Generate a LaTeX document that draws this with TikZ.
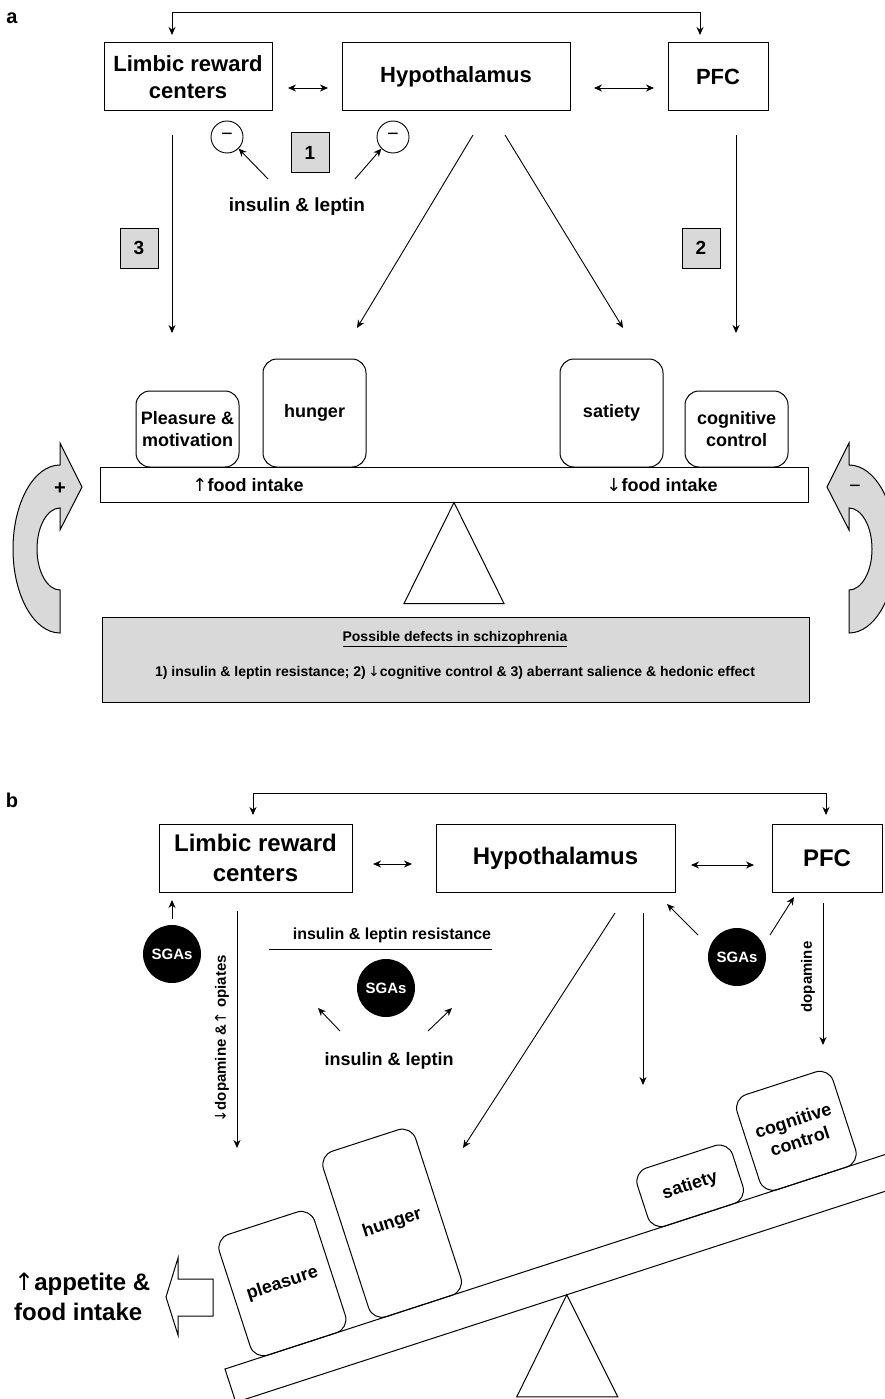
\documentclass[tikz,border=0pt]{standalone}
\usepackage{fontspec}
\setmainfont{Liberation Sans}
\newfontfamily\arrf{DejaVu Sans}
\usetikzlibrary{arrows.meta,calc}
\newcommand{\fsz}[2]{\fontsize{#1}{#2}\selectfont}
\newcommand{\upA}{{\arrf\mdseries ↑}}
\newcommand{\dnA}{{\arrf\mdseries ↓}}
\newcommand{\myBendArrow}[2]{% #1 base x, #2 direction (+1 points right)
  \draw[line width=1pt, fill=gray!30]
    (#1,633) .. controls ({#1-#2*26},633) and ({#1-#2*47},595.4) .. ({#1-#2*47},549)
    .. controls ({#1-#2*47},502.6) and ({#1-#2*26},465) .. (#1,465)
    -- (#1,443) -- ({#1+#2*22},487) -- (#1,530) -- (#1,508)
    .. controls ({#1-#2*12.7},508) and ({#1-#2*23},526.4) .. ({#1-#2*23},549)
    .. controls ({#1-#2*23},571.6) and ({#1-#2*12.7},590) .. (#1,590) -- cycle;}
\tikzset{
  box/.style={draw, line width=1pt, align=center, inner sep=0pt, font=\bfseries\fsz{22}{27}},
  boxb/.style={box, font=\bfseries\fsz{24}{30}},
  blk/.style={draw, line width=1pt, rounded corners=14pt, align=center, inner sep=0pt,
    minimum width=103pt, font=\bfseries\fsz{18}{22}},
  arr/.style={-{Stealth[length=8pt,width=7pt]}, line width=0.9pt},
  darr/.style={{Stealth[length=8pt,width=7pt]}-{Stealth[length=8pt,width=7pt]}, line width=0.9pt},
  numbox/.style={draw, fill=gray!30, line width=1pt, minimum width=38pt, minimum height=40pt,
    inner sep=0pt, font=\bfseries\fsz{19}{23}},
  minuscirc/.style={draw, circle, line width=0.9pt, minimum size=32pt, inner sep=0pt},
  sga/.style={circle, fill=black, minimum size=58pt, inner sep=0pt, text=white,
    font=\bfseries\fsz{15}{18}},
  lbl/.style={inner sep=0pt, font=\bfseries\fsz{18}{22}},
}
\begin{document}
\begin{tikzpicture}[x=1pt, y=-1pt]
\useasboundingbox (0,0) rectangle (885,1399);
\clip (0,0) rectangle (885,1399);
%================ PANEL A =================
\node[lbl, font=\bfseries\fsz{20}{24}] (labA) at (12,18) {a};
\node[box, minimum width=168pt, minimum height=68pt] (limA) at (188,77) {Limbic reward\\centers};
\node[box, minimum width=228pt, minimum height=68pt] (hypA) at (456,77) {Hypothalamus};
\node[box, minimum width=100pt, minimum height=68pt] (pfcA) at (718,77) {PFC};
\coordinate (fbAl) at (172,35);
\coordinate (fbAr) at (700,35);
\draw[{Stealth[length=8pt,width=7pt]}-{Stealth[length=8pt,width=7pt]}, line width=0.9pt]
  (fbAl) -- ++(0,-23) -| (fbAr);
\coordinate (dA1) at (288,88); \coordinate (dA2) at (328,88);
\draw[darr] (dA1) -- (dA2);
\coordinate (dA3) at (594,88); \coordinate (dA4) at (654,88);
\draw[darr] (dA3) -- (dA4);
% minus circles
\node[minuscirc] (m1) at (227,137) {\fsz{20}{22}−};
\node[minuscirc] (m2) at (393,137) {\fsz{20}{22}−};
\node[numbox] (n1) at (310,153) {1};
\node[lbl, font=\bfseries\fsz{19}{23}] (insA) at (297,207) {insulin \& leptin};
\coordinate (iA1) at (268,179); \coordinate (iA2) at (355,179);
\draw[arr] (iA1) -- (m1.south east);
\draw[arr] (iA2) -- (m2.south west);
\node[numbox] (n3) at (139,248) {3};
\node[numbox] (n2) at (701,248) {2};
% blocks
\node[blk, minimum height=76pt] (plA) at (187.5,429) {Pleasure \&\\motivation};
\node[blk, minimum height=108pt] (huA) at (314.5,413) {hunger};
\node[blk, minimum height=108pt] (saA) at (611.5,413) {satiety};
\node[blk, minimum height=76pt] (coA) at (736.5,429) {cognitive\\control};
% vertical/diagonal arrows
\coordinate (lA0) at (172,135); \coordinate (lA1) at (172,333);
\draw[arr] (lA0) -- (lA1);
\coordinate (hA0) at (473,135); \coordinate (hA1) at (357,328);
\draw[arr] (hA0) -- (hA1);
\coordinate (hA2) at (505,135); \coordinate (hA3) at (623,328);
\draw[arr] (hA2) -- (hA3);
\coordinate (pA0) at (736,135); \coordinate (pA1) at (736,333);
\draw[arr] (pA0) -- (pA1);
% beam
\node[draw, line width=1pt, minimum width=708pt, minimum height=35pt, inner sep=0pt] (beamA) at (454,484.5) {};
\node[lbl, font=\bfseries\fsz{18}{22}] (fiA1) at (248,485) {\upA food intake};
\node[lbl, font=\bfseries\fsz{18}{22}] (fiA2) at (662,485) {\dnA food intake};
\draw[line width=1pt] (beamA.south) -- ++(-50,101) -- ++(100,0) -- cycle;
% defects box
\node[draw, line width=1pt, fill=gray!30, minimum width=707pt, minimum height=85pt, inner sep=0pt,
  align=center] (defA) at (455.5,659.5) {};
\node[lbl, font=\bfseries\fsz{14}{17}] (defT) at (455,639) {\underline{Possible defects in schizophrenia}};
\node[lbl, font=\bfseries\fsz{14}{17}] (defL) at (455,673) {1) insulin \& leptin resistance; 2)\,\dnA cognitive control \& 3) aberrant salience \& hedonic effect};
% curved arrows
\myBendArrow{60}{1}
\myBendArrow{849}{-1}
\node[lbl, font=\bfseries\fsz{20}{22}] (plus) at (60,489) {+};
\node[lbl, font=\fsz{20}{22}] (minus) at (855,489) {−};
%================ PANEL B =================
\node[lbl, font=\bfseries\fsz{20}{24}] (labB) at (12,800) {b};
\node[boxb, minimum width=193pt, minimum height=68pt] (limB) at (255.5,858) {Limbic reward\\centers};
\node[boxb, minimum width=239pt, minimum height=68pt] (hypB) at (555.5,858) {Hypothalamus};
\node[boxb, minimum width=110pt, minimum height=68pt] (pfcB) at (827,858) {PFC};
\coordinate (fbBl) at (253,815);
\coordinate (fbBr) at (826,815);
\draw[{Stealth[length=8pt,width=7pt]}-{Stealth[length=8pt,width=7pt]}, line width=0.9pt]
  (fbBl) -- ++(0,-22) -| (fbBr);
\coordinate (dB1) at (373,864); \coordinate (dB2) at (412,864);
\draw[darr] (dB1) -- (dB2);
\coordinate (dB3) at (691,865); \coordinate (dB4) at (754,865);
\draw[darr] (dB3) -- (dB4);
% SGAs
\node[sga] (sgL) at (172,954) {SGAs};
\node[sga] (sgM) at (386,988) {SGAs};
\node[sga] (sgR) at (737,957) {SGAs};
\coordinate (sL0) at (172,919); \coordinate (sL1) at (172,900);
\draw[arr] (sL0) -- (sL1);
\coordinate (sR1) at (698,935); \coordinate (sR2) at (667,904);
\draw[arr] (sR1) -- (sR2);
\coordinate (sR3) at (770,935); \coordinate (sR4) at (794,897);
\draw[arr] (sR3) -- (sR4);
% insulin resistance
\node[lbl, font=\bfseries\fsz{16}{19}] (resB) at (392,935) {insulin \& leptin resistance};
\coordinate (rl1) at (269,949); \coordinate (rl2) at (492,949);
\draw[line width=1pt] (rl1) -- (rl2);
\coordinate (iB1) at (340,1031); \coordinate (iB2) at (318,1008);
\draw[arr] (iB1) -- (iB2);
\coordinate (iB3) at (428,1031); \coordinate (iB4) at (452,1008);
\draw[arr] (iB3) -- (iB4);
\node[lbl, font=\bfseries\fsz{18}{22}] (insB) at (389,1061) {insulin \& leptin};
% downward arrows
\coordinate (lB0) at (237,911); \coordinate (lB1) at (237,1148);
\draw[arr] (lB0) -- (lB1);
\node[lbl, font=\bfseries\fsz{15}{18}, rotate=90] (dopL) at (222,1039) {\dnA dopamine \&\upA\ opiates};
\coordinate (hB0) at (615,913); \coordinate (hB1) at (463,1148);
\draw[arr] (hB0) -- (hB1);
\coordinate (hB2) at (643,913); \coordinate (hB3) at (643,1085);
\draw[arr] (hB2) -- (hB3);
\coordinate (pB0) at (823,903); \coordinate (pB1) at (823,1045);
\draw[arr] (pB0) -- (pB1);
\node[lbl, font=\bfseries\fsz{15}{18}, rotate=90] (dopR) at (808,977) {dopamine};
% tilted beam
\begin{scope}[shift={(225,1369)}, rotate=18]
  \draw[line width=1pt] (0,0) rectangle (708,35);
  \coordinate (pivB) at (348,35);
  \node[blk, rotate=18, minimum width=100pt, minimum height=127pt] (plB) at (81,-63.5) {pleasure};
  \node[blk, rotate=18, minimum width=97pt, minimum height=174pt] (huB) at (204,-87) {hunger};
  \node[blk, rotate=18, minimum width=100pt, minimum height=61pt] (saB) at (499,-30.5) {satiety};
  \node[blk, rotate=18, minimum width=101pt, minimum height=100pt] (coB) at (617,-50) {cognitive\\control};
\end{scope}
\draw[line width=1pt] (pivB) -- ++(-50,102) -- ++(101,0) -- cycle;
% left arrow
\draw[line width=1pt] (213,1279) -- (178,1279) -- (178,1258) -- (166,1297) -- (178,1335)
  -- (178,1316) -- (213,1316) -- cycle;
\node[lbl, font=\bfseries\fsz{24}{30}, align=left, anchor=west] (appB) at (14,1297)
  {\upA appetite \&\\food intake};
\end{tikzpicture}
\end{document}
